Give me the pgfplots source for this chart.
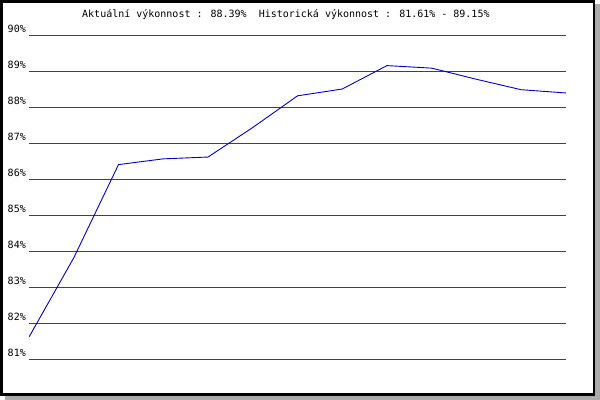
\documentclass[border=0pt]{standalone}
\usepackage{pgfplots}
\pgfplotsset{compat=1.18}
\usepackage{fontspec}
\setmainfont{DejaVu Sans Mono}
\definecolor{gridred}{RGB}{220,0,0}
\definecolor{lineblue}{RGB}{0,0,204}
\definecolor{shadowgray}{RGB}{170,170,170}
\begin{document}
\fontsize{10bp}{12bp}\selectfont
\begin{tikzpicture}
\fill[shadowgray] (595.3bp,-4bp) rectangle (600bp,-400bp);
\fill[shadowgray] (5bp,-396bp) rectangle (600bp,-400bp);
\draw[black, line width=2.7bp] (1.35bp,-1.35bp) rectangle (593.95bp,-394.65bp);
\begin{axis}[
  at={(29bp,-359bp)}, anchor=south west,
  scale only axis, width=537bp, height=324bp,
  xmin=0, xmax=12, ymin=81, ymax=90,
  axis line style={draw=none},
  major tick length=0pt,
  xtick=\empty,
  ytick={81,82,83,84,85,86,87,88,89,90},
  yticklabels={81\%,82\%,83\%,84\%,85\%,86\%,87\%,88\%,89\%,90\%},
  yticklabel style={anchor=base east, inner sep=0pt, xshift=-3bp, yshift=3bp},
  ymajorgrids,
  grid style={gridred, line width=0.8bp},
]
\addplot[lineblue, line width=0.9bp, mark=none] coordinates {
 (0,81.61) (1,83.81) (2,86.40) (3,86.56) (4,86.61) (5,87.43) (6,88.31)
 (7,88.50) (8,89.15) (9,89.08) (10,88.77) (11,88.48) (12,88.39)
};
\end{axis}
\node[anchor=base west, inner sep=0pt] at (82bp,-17bp) {Aktuální výkonnost : 88.39\%\ \ Historická výkonnost : 81.61\% - 89.15\%};
\pgfresetboundingbox
\useasboundingbox (0,0) rectangle (600bp,-400bp);
\end{tikzpicture}
\end{document}
